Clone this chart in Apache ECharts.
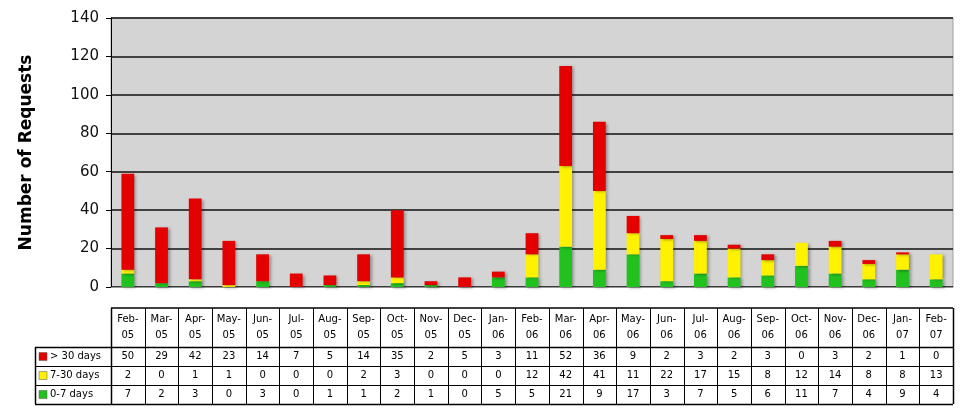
<!DOCTYPE html>
<html><head><meta charset="utf-8">
<script src="https://cdn.jsdelivr.net/npm/echarts@6/dist/echarts.min.js"></script>
<style>html,body{margin:0;padding:0;background:#fff}#c{width:960px;height:414px}</style>
</head><body><div id="c"></div>
<script>
const categories = ['Feb-05','Mar-05','Apr-05','May-05','Jun-05','Jul-05','Aug-05','Sep-05','Oct-05','Nov-05','Dec-05','Jan-06','Feb-06','Mar-06','Apr-06','May-06','Jun-06','Jul-06','Aug-06','Sep-06','Oct-06','Nov-06','Dec-06','Jan-07','Feb-07'];
const over30 = [50,29,42,23,14,7,5,14,35,2,5,3,11,52,36,9,2,3,2,3,0,3,2,1,0];
const d7to30 = [2,0,1,1,0,0,0,2,3,0,0,0,12,42,41,11,22,17,15,8,12,14,8,8,13];
const d0to7 = [7,2,3,0,3,0,1,1,2,1,0,5,5,21,9,17,3,7,5,6,11,7,4,9,4];
const yTicks = [0,20,40,60,80,100,120,140];
const seriesNames = ['> 30 days','7-30 days','0-7 days'];
const colors = {'> 30 days':'#e50000','7-30 days':'#fff200','0-7 days':'#22c21e'};
const tableRows = [[seriesNames[0], over30],[seriesNames[1], d7to30],[seriesNames[2], d0to7]];

const chart = echarts.init(document.getElementById('c'));
const shadow = {shadowBlur:3, shadowColor:'rgba(0,0,0,0.35)', shadowOffsetX:2, shadowOffsetY:1};
function mk(name, data){
  return {name, type:'bar', stack:'s', data, barWidth:'38%',
    itemStyle:Object.assign({color:colors[name]}, shadow)};
}
chart.setOption({
  animation:false,
  textStyle:{fontFamily:'DejaVu Sans'},
  grid:{left:111, right:7, top:18, bottom:127, show:true, backgroundColor:'#d4d4d4', borderColor:'#a0a0a0', borderWidth:1},
  xAxis:{type:'category', data:categories, axisLabel:{show:false}, axisTick:{show:false},
    axisLine:{lineStyle:{color:'#999'}}},
  yAxis:{type:'value', min:yTicks[0], max:yTicks[yTicks.length-1], interval:20,
    name:'Number of Requests', nameLocation:'middle', nameGap:76, nameRotate:90,
    nameTextStyle:{fontFamily:'DejaVu Sans', fontSize:17, fontWeight:'bold', color:'#000'},
    axisLine:{show:true, lineStyle:{color:'#000', width:1}},
    axisTick:{show:true, length:5, lineStyle:{color:'#000'}},
    axisLabel:{fontFamily:'DejaVu Sans', fontSize:15, color:'#111', margin:12},
    splitLine:{lineStyle:{color:'#111', width:1.5}}},
  series:[mk(seriesNames[2], d0to7), mk(seriesNames[1], d7to30), mk(seriesNames[0], over30)]
});

// build the data table from the chart's own scales
const n = categories.length;
const c0 = chart.convertToPixel({xAxisIndex:0}, 0);
const step = chart.convertToPixel({xAxisIndex:0}, 1) - c0;
const L = c0 - step/2, R = L + step*n;
const base = chart.convertToPixel({yAxisIndex:0}, 0);
const hTop = base + 21, hBot = hTop + 39, rowH = 19;
const legL = 35;
const els = [];
const ln = (x1,y1,x2,y2,w)=>els.push({type:'line', shape:{x1,y1,x2,y2}, style:{stroke:'#000', lineWidth:w||1}, silent:true});
const font = '10px DejaVu Sans';
ln(L, hTop, R, hTop, 1.5);
for (let i=0;i<=n;i++){ const x = Math.round(L+step*i)+0.5; ln(x, hTop, x, hBot+rowH*3, (i===0||i===n)?1.5:1); }
for (let r=0;r<=3;r++){ const y = Math.round(hBot+rowH*r)+0.5; ln(legL, y, R, y, (r===0||r===3)?1.5:1); }
ln(legL+0.5, hBot, legL+0.5, hBot+rowH*3, 1.5);
categories.forEach((c,i)=>{
  const [m,y] = c.split('-');
  els.push({type:'text', silent:true, style:{text:m+'-\n'+y, x:L+step*(i+0.5), y:(hTop+hBot)/2, align:'center', verticalAlign:'middle', font, lineHeight:16, fill:'#000'}});
});
tableRows.forEach(([name, vals], r)=>{
  const yc = hBot + rowH*(r+0.5);
  els.push({type:'rect', silent:true, shape:{x:legL+4, y:yc-4, width:8, height:8}, style:{fill:colors[name], stroke:'#555', lineWidth:0.5}});
  els.push({type:'text', silent:true, style:{text:name, x:legL+15, y:yc, align:'left', verticalAlign:'middle', font, fill:'#000'}});
  vals.forEach((v,i)=>{
    els.push({type:'text', silent:true, style:{text:String(v), x:L+step*(i+0.5), y:yc, align:'center', verticalAlign:'middle', font, fill:'#000'}});
  });
});
chart.setOption({graphic:{elements:els}});
</script></body></html>
